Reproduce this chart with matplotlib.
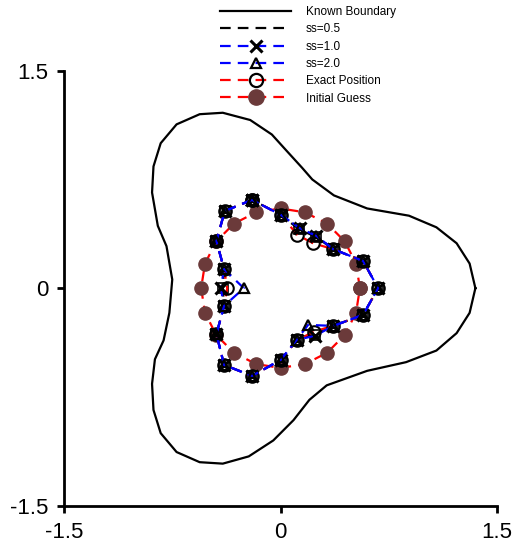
import matplotlib.pyplot as plt
from matplotlib.lines import Line2D

plt.rcParams['font.family'] = ['Liberation Sans', 'DejaVu Sans']

# known boundary
bnd_x = [1.35, 1.31, 1.22, 1.08, 0.89, 0.60, 0.37, 0.22, 0.15, 0.04, -0.06, -0.21, -0.40,
         -0.56, -0.72, -0.83, -0.88, -0.89, -0.85, -0.79, -0.75, -0.77, -0.81, -0.87, -0.89,
         -0.88, -0.83, -0.72, -0.56, -0.40, -0.22, -0.05, 0.09, 0.20, 0.32, 0.60, 0.87, 1.08,
         1.22, 1.31, 1.35]
bnd_y = [0.0, 0.17, 0.31, 0.42, 0.50, 0.55, 0.64, 0.75, 0.83, 0.95, 1.06, 1.16, 1.21,
         1.20, 1.13, 1.00, 0.84, 0.66, 0.43, 0.29, 0.06, -0.17, -0.36, -0.49, -0.66,
         -0.84, -1.00, -1.13, -1.20, -1.21, -1.16, -1.05, -0.91, -0.77, -0.67, -0.57, -0.51, -0.43,
         -0.31, -0.17, 0.0]

# exact positions of the inclusion boundary
exact_x = [-0.197, -0.386, -0.444, -0.391, -0.369, -0.391, -0.444, -0.391, -0.197, 0.002,
           0.113, 0.231, 0.365, 0.572, 0.676, 0.572, 0.365, 0.226, 0.116, 0.002, -0.197]
exact_y = [0.609, 0.533, 0.326, 0.131, 0.0, -0.122, -0.317, -0.529, -0.605, -0.494,
           -0.360, -0.299, -0.260, -0.184, 0.0, 0.188, 0.269, 0.310, 0.368, 0.506, 0.609]

# reconstructions for different step sizes
ss05_x = [-0.197, -0.386, -0.444, -0.391, -0.400, -0.391, -0.444, -0.391, -0.197, 0.002,
          0.113, 0.236, 0.365, 0.572, 0.676, 0.572, 0.365, 0.245, 0.130, 0.002, -0.197]
ss05_y = [0.609, 0.533, 0.326, 0.131, 0.0, -0.122, -0.317, -0.529, -0.605, -0.494,
          -0.357, -0.320, -0.260, -0.184, 0.0, 0.188, 0.269, 0.355, 0.405, 0.506, 0.609]
ss10_x = [-0.197, -0.386, -0.444, -0.391, -0.414, -0.391, -0.444, -0.391, -0.197, 0.002,
          0.113, 0.238, 0.365, 0.572, 0.676, 0.572, 0.365, 0.249, 0.134, 0.002, -0.197]
ss10_y = [0.609, 0.533, 0.326, 0.131, 0.0, -0.122, -0.317, -0.529, -0.605, -0.494,
          -0.355, -0.329, -0.260, -0.184, 0.0, 0.188, 0.269, 0.361, 0.414, 0.506, 0.609]
ss20_x = [-0.197, -0.386, -0.444, -0.391, -0.254, -0.391, -0.444, -0.391, -0.197, 0.002,
          0.113, 0.191, 0.365, 0.572, 0.676, 0.572, 0.365, 0.249, 0.134, 0.002, -0.197]
ss20_y = [0.609, 0.533, 0.326, 0.131, 0.0, -0.122, -0.317, -0.529, -0.605, -0.494,
          -0.355, -0.253, -0.260, -0.184, 0.0, 0.188, 0.269, 0.361, 0.414, 0.506, 0.609]

# initial guess
guess_x = [0.550, 0.523, 0.445, 0.323, 0.170, 0.0, -0.170, -0.323, -0.445, -0.523, -0.550,
           -0.523, -0.445, -0.323, -0.170, 0.0, 0.170, 0.323, 0.445, 0.523, 0.550]
guess_y = [0.0, 0.170, 0.323, 0.445, 0.523, 0.550, 0.523, 0.445, 0.323, 0.170, 0.0,
           -0.170, -0.323, -0.445, -0.523, -0.550, -0.523, -0.445, -0.323, -0.170, 0.0]

brown = '#6b3a3a'
dash = (4.8, 3.2)

fig = plt.figure(figsize=(5.14, 5.49), dpi=100)
ax = fig.add_axes([0.1245, 0.0789, 0.8425, 0.7923])

ax.plot(guess_x, guess_y, color='red', lw=1.6, dashes=dash, marker='o', ms=9.5,
        mfc=brown, mec=brown, zorder=2)
ax.plot(bnd_x, bnd_y, color='black', lw=1.6, zorder=3)
ax.plot(ss05_x, ss05_y, color='black', lw=1.6, dashes=dash, marker='s', ms=7,
        mfc='none', mec='black', mew=1.2, zorder=3)
ax.plot(exact_x, exact_y, color='red', lw=1.6, dashes=dash, marker='o', ms=9,
        mfc='none', mec='black', mew=1.5, zorder=4)
ax.plot(ss10_x, ss10_y, color='blue', lw=1.6, dashes=dash, marker='x', ms=8,
        mec='black', mew=2.2, zorder=5)
ax.plot(ss20_x, ss20_y, color='blue', lw=1.6, dashes=dash, marker='^', ms=7,
        mfc='none', mec='black', mew=1.6, zorder=6)

handles = [
    Line2D([], [], color='black', lw=1.6),
    Line2D([], [], color='black', lw=1.6, dashes=dash),
    Line2D([], [], color='blue', lw=1.6, dashes=dash, marker='x', ms=8.5, mec='black', mew=2.2),
    Line2D([], [], color='blue', lw=1.6, dashes=dash, marker='^', ms=7, mfc='none',
           mec='black', mew=1.6),
    Line2D([], [], color='red', lw=1.6, dashes=dash, marker='o', ms=9.5, mfc='none',
           mec='black', mew=1.6),
    Line2D([], [], color='red', lw=1.6, dashes=dash, marker='o', ms=11, mfc=brown, mec=brown),
]
labels = ['Known Boundary', 'ss=0.5', 'ss=1.0', 'ss=2.0', 'Exact Position', 'Initial Guess']
fig.legend(handles, labels, loc='upper left', bbox_to_anchor=(0.428, 0.989),
           frameon=False, fontsize=8.5, handlelength=6.05, handletextpad=1.2,
           labelspacing=0.45, borderpad=0, borderaxespad=0)

ax.set_xlim(-1.5, 1.5)
ax.set_ylim(-1.5, 1.5)
ax.set_xticks([-1.5, 0, 1.5])
ax.set_yticks([-1.5, 0, 1.5])
ax.set_xticklabels(['-1.5', '0', '1.5'])
ax.set_yticklabels(['-1.5', '0', '1.5'])
ax.spines['top'].set_visible(False)
ax.spines['right'].set_visible(False)
for s in ['left', 'bottom']:
    ax.spines[s].set_linewidth(2)
ax.tick_params(direction='out', length=5, width=2, labelsize=16)
ax.tick_params(axis='y', pad=6)
ax.tick_params(axis='x', pad=7)

fig.savefig('out.png', dpi=100)
